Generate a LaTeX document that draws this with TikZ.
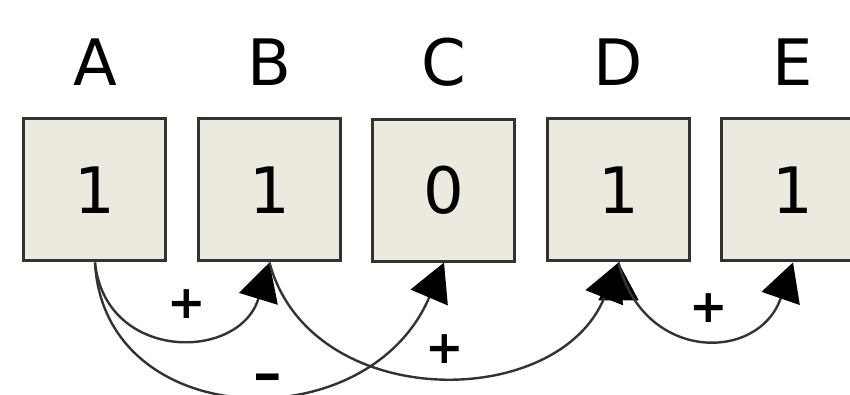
\documentclass[tikz,border=0pt]{standalone}
\usepackage{fontspec}
\setmainfont{DejaVu Sans}
\usepackage{graphicx}
\usepackage{tikz}
\usetikzlibrary{matrix,arrows.meta}
\definecolor{cellfill}{RGB}{236,233,222}
\definecolor{cellline}{RGB}{51,51,51}

\begin{document}
\begin{tikzpicture}[
	head/.style={inner sep=0pt, font=\fontsize{32pt}{38pt}\selectfont},
	cell/.style={draw=cellline, line width=1.5pt, fill=cellfill, minimum size=71pt, inner sep=0pt, font=\fontsize{32pt}{38pt}\selectfont},
	sign/.style={font=\fontsize{23pt}{28pt}\selectfont\bfseries, inner sep=0pt, anchor=center},
	conn/.style={draw=black!80, line width=1.2pt, -{Triangle[length=19pt,width=20pt,color=black]}}
]
			\matrix (m) [matrix of nodes, row sep=15.5pt, column sep=14.75pt,
				row 1/.style={nodes=head}, row 2/.style={nodes=cell}]
			{
				A & B & C & D & E \\
				1 & 1 & 0 & 1 & 1 \\
			};
			\path[conn]
			(m-2-1.south) edge[out=-84, in=-107, out distance=50pt, in distance=52pt] node[sign, pos=.55, yshift=16pt]{+} (m-2-2.south)
					edge[out=-87, in=-113, out distance=85pt, in distance=97.5pt] node[sign, pos=.55, yshift=5pt]{\scalebox{1.6}[1]{-}} (m-2-3.south)
			(m-2-2.south) edge[out=-75, in=-112, out distance=77.5pt, in distance=81pt] node[sign, pos=.52, yshift=13pt]{+} (m-2-4.south)
			(m-2-4.south) edge[out=-76, in=-109, out distance=51.5pt, in distance=53pt] node[sign, pos=.53, yshift=14.5pt]{+} (m-2-5.south);
			\pgfresetboundingbox
			\useasboundingbox ([shift={(-47.5pt,95pt)}]m-2-1.center) rectangle ++(425pt,-197.5pt);
		\end{tikzpicture}
\end{document}
